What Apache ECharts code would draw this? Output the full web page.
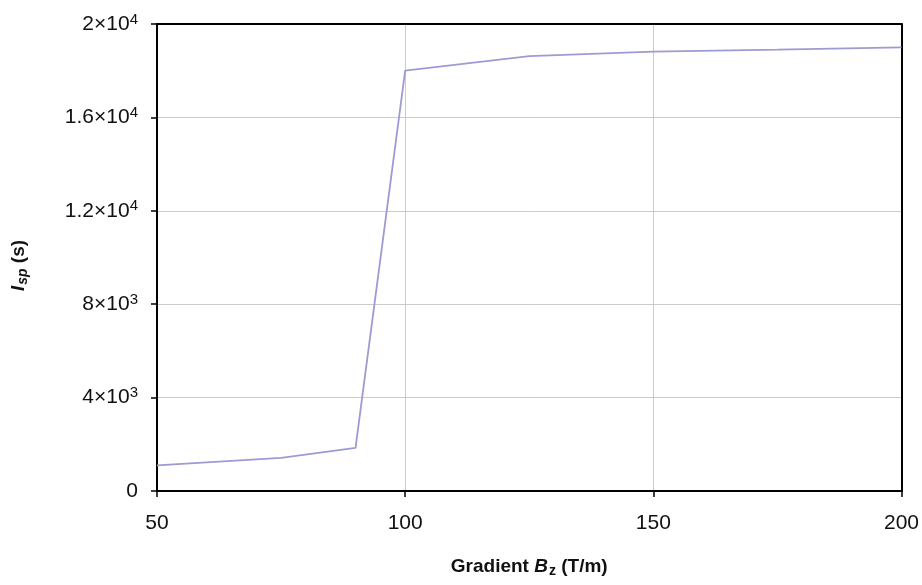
<!DOCTYPE html>
<html>
<head>
<meta charset="utf-8">
<script src="https://cdn.jsdelivr.net/npm/echarts@6/dist/echarts.min.js"></script>
<style>
html,body{margin:0;padding:0;background:#fff;}
#c{width:922px;height:585px;}
</style>
</head>
<body>
<div id="c"></div>
<script>
var gradientX = [50, 75, 90, 100, 125, 150, 175, 200];
var ispValues = [1100, 1420, 1850, 18000, 18620, 18820, 18900, 19000];
var yTickValues = [0, 4000, 8000, 12000, 16000, 20000];
var yTickMantissa = ['0', '4×10', '8×10', '1.2×10', '1.6×10', '2×10'];
var yTickExponent = ['', '3', '3', '4', '4', '4'];

var chart = echarts.init(document.getElementById('c'), null, {renderer: 'canvas'});
var FONT = '"Liberation Sans", Arial, sans-serif';

var option = {
  animation: false,
  backgroundColor: '#ffffff',
  grid: {left: 156, right: 18, top: 24, bottom: 94},
  xAxis: [{
    type: 'value', min: 50, max: 200, interval: 50,
    name: '{b|Gradient }{bi|B}{sub|z}{b| (T/m)}',
    nameLocation: 'middle', nameGap: 64,
    nameTextStyle: {
      rich: {
        b: {fontFamily: FONT, fontSize: 19, fontWeight: 'bold', color: '#111', lineHeight: 24, verticalAlign: 'middle'},
        bi: {fontFamily: FONT, fontSize: 19, fontWeight: 'bold', fontStyle: 'italic', color: '#111', lineHeight: 24, verticalAlign: 'middle'},
        sub: {fontFamily: FONT, fontSize: 14, fontWeight: 'bold', color: '#111', lineHeight: 14, verticalAlign: 'middle', padding: [8, 0, 0, 1]}
      }
    },
    axisLine: {show: true, onZero: false, lineStyle: {color: '#000', width: 2}},
    axisTick: {show: true, length: 6, lineStyle: {color: '#000', width: 1.5}},
    axisLabel: {fontFamily: FONT, fontSize: 21, color: '#111', margin: 22},
    splitLine: {show: true, lineStyle: {color: '#cbcbcb', width: 1}}
  }, {
    type: 'value', min: 50, max: 200, position: 'top',
    axisLine: {show: true, onZero: false, lineStyle: {color: '#000', width: 2}},
    axisTick: {show: false}, axisLabel: {show: false}, splitLine: {show: false}
  }],
  yAxis: [{
    type: 'value', min: 0, max: 20000, interval: 4000,
    name: '{bi|I}{sub|sp}{b| (s)}',
    nameLocation: 'middle', nameGap: 126, nameRotate: 90,
    nameTextStyle: {
      padding: [0, 16, 0, 0],
      rich: {
        b: {fontFamily: FONT, fontSize: 19, fontWeight: 'bold', color: '#111', lineHeight: 24, verticalAlign: 'middle'},
        bi: {fontFamily: FONT, fontSize: 19, fontWeight: 'bold', fontStyle: 'italic', color: '#111', lineHeight: 24, verticalAlign: 'middle'},
        sub: {fontFamily: FONT, fontSize: 14, fontWeight: 'bold', fontStyle: 'italic', color: '#111', lineHeight: 14, verticalAlign: 'middle', padding: [8, 0, 0, 1]}
      }
    },
    axisLine: {show: true, onZero: false, lineStyle: {color: '#000', width: 2}},
    axisTick: {show: true, length: 6, lineStyle: {color: '#000', width: 1.5}},
    axisLabel: {
      margin: 19,
      formatter: function (v) {
        var i = yTickValues.indexOf(v);
        if (i < 0) return '';
        if (!yTickExponent[i]) return '{m|' + yTickMantissa[i] + '}';
        return '{m|' + yTickMantissa[i] + '}{e|' + yTickExponent[i] + '}';
      },
      rich: {
        m: {fontFamily: FONT, fontSize: 21, color: '#111', lineHeight: 24, verticalAlign: 'middle'},
        e: {fontFamily: FONT, fontSize: 15, color: '#111', lineHeight: 15, verticalAlign: 'middle', padding: [0, 0, 9, 0]}
      }
    },
    splitLine: {show: true, lineStyle: {color: '#cbcbcb', width: 1}}
  }, {
    type: 'value', min: 0, max: 20000, position: 'right',
    axisLine: {show: true, onZero: false, lineStyle: {color: '#000', width: 2}},
    axisTick: {show: false}, axisLabel: {show: false}, splitLine: {show: false}
  }],
  series: [{
    type: 'line',
    data: gradientX.map(function (x, i) { return [x, ispValues[i]]; }),
    showSymbol: false,
    lineStyle: {color: '#9d9bd4', width: 1.8},
    itemStyle: {color: '#9d9bd4'}
  }]
};
chart.setOption(option);
</script>
</body>
</html>
